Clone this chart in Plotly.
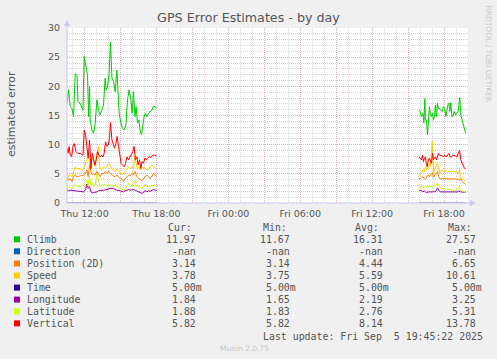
import plotly.graph_objects as go
from datetime import datetime, timedelta

# ---------------- data ----------------
# segment 1: minutes relative to Thu 2025-09-04 12:00
# segment 2: minutes relative to Fri 2025-09-05 18:00
seg1_base = datetime(2025, 9, 4, 12, 0)
seg2_base = datetime(2025, 9, 5, 18, 0)

climb_t1 = [-88,-80,-72,-63,-55,-47,-38,-33,-22,-8,-2,5,15,20,25,28,37,45,53,62,70,78,87,95,103,108,115,123,130,137,145,153,162,167,173,182,190,198,207,215,223,232,238,245,252,258,265,272,278,285,292,298,305,312,320,328,337,345,353,360]
climb_v1 = [17.1,19.4,16.5,16.2,14.8,22.2,21.9,17.4,17.1,15.9,25.1,23.9,21.9,14.8,19.9,14.2,12.5,11.9,13.7,17.7,15.9,15.1,15.9,16.8,21.4,19.4,19.9,22.2,27.57,21.4,20.8,19.1,22.8,17.9,15.4,13.7,12.8,12.5,13.4,17.7,19.4,17.7,15.4,19.1,14.8,16.5,13.7,14.2,12.5,11.67,13.7,14.8,15.4,14.8,15.4,15.7,15.9,16.6,16.5,16.4]
climb_t2 = [-126,-119,-113,-106,-101,-96,-93,-88,-83,-78,-73,-68,-63,-58,-53,-48,-43,-38,-33,-28,-23,-16,-9,-3,4,9,14,19,24,29,34,39,44,51,58,64,71,76,79,84,91,98,103,108]
climb_v2 = [15.9,15.7,14.8,15.4,13.7,17.9,14.2,14.2,11.7,14.2,16.5,15.1,14.8,15.4,14.2,14.8,16.8,14.8,17.1,16.2,16.2,15.9,15.7,16.5,16.2,14.8,15.9,16.8,17.1,15.7,17.2,14.8,14.8,15.7,15.1,15.4,15.7,17.4,18.1,15.1,14.2,13.1,12.2,11.97]

vert_t1 = [-88,-83,-77,-72,-65,-58,-52,-43,-35,-22,-8,-2,5,12,18,25,32,38,45,52,58,65,72,78,85,92,98,105,112,118,125,130,137,143,150,157,163,170,177,183,190,198,205,212,220,228,235,242,248,255,262,268,275,282,288,295,302,308,315,322,332,342,352,360]
vert_v1 = [9.4,8.5,9.7,8.2,7.9,9.7,10.2,8.8,8.5,8.5,8.2,12.5,11.7,9.9,7.7,10.8,5.9,8.5,7.7,6.5,7.4,8.8,8.2,7.9,8.2,7.9,8.5,10.5,9.7,9.9,11.1,13.78,10.8,10.2,9.4,10.2,11.4,9.7,7.9,6.8,6.5,6.2,6.8,7.9,7.4,7.9,8.5,8.8,9.7,7.4,7.9,6.5,7.4,5.9,7.1,6.8,7.7,7.4,7.7,7.9,7.8,8.2,8.2,8.1]
vert_t2 = [-126,-119,-113,-108,-103,-98,-93,-89,-84,-79,-73,-68,-63,-58,-53,-48,-43,-38,-33,-28,-23,-16,-9,-3,4,11,18,24,31,38,44,51,58,64,71,78,84,91,98,103,108]
vert_v2 = [7.9,7.7,7.4,8.2,7.1,7.7,7.9,6.8,6.2,7.4,7.7,7.1,6.8,8.5,7.4,7.7,7.9,7.4,8.2,8.5,8.2,8.2,8.1,7.9,8.2,7.9,8.2,8.5,7.9,7.9,8.2,8.2,8.1,7.9,8.5,9.0,7.4,6.8,6.2,5.9,5.82]

speed_t1 = [-88,-80,-72,-63,-55,-47,-38,-22,-8,-2,5,12,18,25,32,38,45,52,58,65,70,75,82,88,95,103,112,120,128,137,145,153,162,170,178,187,195,203,212,220,228,237,245,252,258,265,272,278,287,295,303,312,320,328,337,345,353,360]
speed_v1 = [5.1,4.5,4.8,4.5,5.4,6.2,5.9,5.9,5.7,6.2,6.5,7.4,8.5,6.8,6.2,7.9,7.1,6.2,7.4,9.1,9.7,6.2,5.7,5.9,6.2,5.9,6.2,6.8,6.5,5.9,5.7,5.4,5.9,5.4,5.1,5.1,4.8,5.4,5.9,6.2,5.9,6.2,5.9,8.2,6.8,5.7,6.2,5.7,5.9,6.2,5.9,5.7,5.9,6.2,6.5,6.2,5.9,5.8]
speed_t2 = [-126,-119,-113,-106,-99,-93,-86,-79,-73,-68,-63,-59,-56,-51,-46,-41,-36,-31,-26,-21,-16,-9,-3,4,11,19,28,36,44,53,61,69,74,78,81,88,94,101,108]
speed_v2 = [4.8,4.8,5.1,5.7,5.4,6.2,5.7,5.9,6.8,6.2,8.5,10.61,7.4,5.1,5.9,6.2,6.8,6.5,5.9,5.1,5.4,5.7,5.4,5.5,5.5,5.4,5.4,5.4,5.4,5.4,5.4,5.2,5.1,5.9,4.5,4.2,4.1,3.9,3.78]

pos_t1 = [-88,-80,-72,-63,-55,-47,-38,-22,-5,5,12,18,25,32,38,45,53,62,70,78,87,95,103,112,120,128,137,145,153,162,170,178,187,195,203,212,220,228,237,245,253,262,270,278,287,295,303,312,320,328,337,345,353,360]
pos_v1 = [4.5,3.9,4.2,3.7,4.5,4.8,4.5,4.6,4.8,5.1,5.7,4.5,6.6,5.4,4.8,5.1,4.8,5.4,4.8,4.5,5.1,5.0,5.4,5.1,5.4,5.1,4.8,4.6,4.5,4.8,4.5,4.2,4.1,3.7,4.1,4.5,4.8,4.6,5.0,4.8,5.4,4.5,4.2,4.1,3.8,4.2,4.5,4.8,4.5,4.2,4.5,5.1,4.8,4.6]
pos_t2 = [-126,-119,-113,-106,-99,-93,-86,-79,-73,-66,-59,-53,-46,-39,-33,-26,-19,-13,-6,1,8,14,21,28,36,44,53,61,69,78,84,91,98,103,108]
pos_v2 = [4.2,4.2,4.4,4.5,4.2,4.1,4.5,4.8,4.5,5.0,5.2,4.4,4.8,5.1,5.4,4.5,4.1,4.2,4.2,4.2,4.2,4.2,4.2,4.2,4.2,4.1,4.2,4.1,4.1,3.9,4.2,3.7,3.5,3.4,3.14]

lat_t1 = [-88,-80,-72,-63,-55,-47,-38,-22,-5,5,12,18,25,32,38,45,53,62,70,78,87,95,103,112,120,128,137,145,153,162,170,178,187,195,203,212,220,228,237,245,252,258,265,272,278,287,295,303,312,320,328,337,345,353,360]
lat_v1 = [2.5,2.8,2.7,2.5,2.8,3.1,2.9,2.8,3.1,3.4,3.9,2.8,4.6,3.1,3.4,2.8,3.1,5.31,3.7,2.8,3.1,3.0,3.2,3.1,2.9,3.1,2.9,2.8,3.1,2.8,2.7,2.5,2.3,2.2,2.5,2.8,3.4,2.8,2.9,3.4,3.9,2.8,3.1,2.8,2.7,2.5,2.8,3.1,2.9,2.8,2.7,2.9,3.1,3.0,2.9]
lat_t2 = [-126,-119,-113,-106,-99,-93,-86,-79,-73,-66,-59,-53,-46,-39,-33,-26,-19,-13,-6,3,11,19,28,36,44,53,61,69,74,78,84,91,98,108]
lat_v2 = [2.5,2.8,2.9,2.5,2.8,2.6,2.9,2.8,2.7,2.9,2.8,2.9,3.1,3.0,3.4,3.1,2.6,2.5,2.5,2.5,2.5,2.4,2.3,2.3,2.2,2.1,2.3,2.5,2.8,2.5,2.2,2.1,1.9,1.88]

lon_t1 = [-88,-80,-72,-55,-38,-22,-5,5,12,18,25,32,38,45,53,62,70,78,95,112,128,145,153,162,178,195,203,212,220,228,245,253,262,270,278,287,295,303,312,320,328,337,345,353,360]
lon_v1 = [2.2,2.1,2.2,2.1,2.1,2.0,1.9,2.3,3.25,2.5,2.8,1.9,1.7,1.8,1.8,1.9,2.1,2.1,2.2,2.3,2.5,2.5,2.3,2.2,2.1,1.9,2.1,2.2,2.3,2.2,2.3,2.2,2.1,1.9,1.8,1.65,1.9,2.1,1.9,2.1,2.0,2.2,2.3,2.2,2.2]
lon_t2 = [-126,-119,-113,-106,-99,-93,-86,-79,-73,-66,-59,-53,-46,-39,-33,-26,-19,-13,-6,3,11,19,28,36,44,53,61,69,74,81,88,94,101,108]
lon_v2 = [2.2,2.2,2.1,1.9,2.1,1.9,1.8,1.9,1.9,1.8,1.9,2.0,1.9,2.1,2.6,2.2,1.9,1.9,1.9,1.9,1.8,1.9,1.8,1.9,1.9,1.8,1.9,1.9,2.1,1.9,1.9,1.8,1.8,1.84]

time_t1 = [-88, 360]
time_v1 = [0.005, 0.005]
time_t2 = [-126, 108]
time_v2 = [0.005, 0.005]

# legend table
legend_names = ["Climb", "Direction", "Position (2D)", "Speed", "Time", "Longitude", "Latitude", "Vertical"]
legend_colors = ["#00CC00", "#0066B3", "#FF8000", "#FFCC00", "#330099", "#990099", "#CCFF00", "#FF0000"]
legend_cur = ["11.97 ", "-nan ", "3.14 ", "3.78 ", "5.00m", "1.84 ", "1.88 ", "5.82 "]
legend_min = ["11.67 ", "-nan ", "3.14 ", "3.75 ", "5.00m", "1.65 ", "1.83 ", "5.82 "]
legend_avg = ["16.31 ", "-nan ", "4.44 ", "5.59 ", "5.00m", "2.19 ", "2.76 ", "8.14 "]
legend_max = ["27.57 ", "-nan ", "6.65 ", "10.61 ", "5.00m", "3.25 ", "5.31 ", "13.78 "]

x_tick_times = ["2025-09-04 12:00", "2025-09-04 15:00", "2025-09-04 18:00", "2025-09-04 21:00",
                "2025-09-05 00:00", "2025-09-05 03:00", "2025-09-05 06:00", "2025-09-05 09:00",
                "2025-09-05 12:00", "2025-09-05 15:00", "2025-09-05 18:00"]
x_tick_labels = ["Thu 12:00", "", "Thu 18:00", "", "Fri 00:00", "", "Fri 06:00", "", "Fri 12:00", "", "Fri 18:00"]
y_tick_vals = [0, 5, 10, 15, 20, 25, 30]
x_range = ["2025-09-04 10:32", "2025-09-05 20:00"]

title_text = "GPS Error Estimates - by day"
y_title = "estimated error"
last_update = "Last update: Fri Sep  5 19:45:22 2025"

# ---------------- figure ----------------
def join(t1, v1, t2, v2):
    xs = [seg1_base + timedelta(minutes=m) for m in t1] + [None] + [seg2_base + timedelta(minutes=m) for m in t2]
    ys = list(v1) + [None] + list(v2)
    return xs, ys

fig = go.Figure()
series = [
    (time_t1, time_v1, time_t2, time_v2, "rgba(80,60,200,0.55)"),
    (lon_t1, lon_v1, lon_t2, lon_v2, "#990099"),
    (lat_t1, lat_v1, lat_t2, lat_v2, "#CCFF00"),
    (pos_t1, pos_v1, pos_t2, pos_v2, "#FF8000"),
    (speed_t1, speed_v1, speed_t2, speed_v2, "#FFCC00"),
    (vert_t1, vert_v1, vert_t2, vert_v2, "#FF0000"),
    (climb_t1, climb_v1, climb_t2, climb_v2, "#00CC00"),
]
for t1, v1, t2, v2, col in series:
    xs, ys = join(t1, v1, t2, v2)
    fig.add_trace(go.Scatter(x=xs, y=ys, mode="lines", line=dict(color=col, width=1),
                             connectgaps=False, showlegend=False, hoverinfo="skip"))

PL, PR, PT, PB = 67, 468, 28, 203
W, H = 497, 359

def px(x):
    return (x - PL) / (PR - PL)

def py(y):
    return (PB - y) / (PB - PT)

major_grid = "rgba(235,130,130,0.45)"
minor_grid = "#d6d6d6"
txt = "#555555"
dash = "1px,1px"

fig.update_layout(
    width=W, height=H,
    margin=dict(l=PL, r=W - PR, t=PT, b=H - PB, pad=0, autoexpand=False),
    paper_bgcolor="#F0F0F0", plot_bgcolor="#FFFFFF",
    font=dict(family="DejaVu Sans", color=txt, size=10),
    title=dict(text=title_text, x=0.5, xref="container", xanchor="center",
               y=1 - 18 / H, yanchor="middle", yref="container",
               font=dict(size=12.7, color=txt, family="DejaVu Sans")),
)

fig.update_xaxes(
    type="date", range=x_range, tickmode="array", tickvals=x_tick_times, ticktext=x_tick_labels,
    showgrid=True, gridcolor=major_grid, griddash=dash, gridwidth=1,
    minor=dict(dtick=3600000, tick0="2025-09-04 00:00", showgrid=True, gridcolor=minor_grid,
               griddash=dash, gridwidth=1),
    ticks="outside", ticklen=2, tickcolor="rgba(0,0,0,0)", showline=False, zeroline=False, automargin=False,
    tickfont=dict(size=9.5, color=txt, family="DejaVu Sans"),
)
fig.update_yaxes(
    range=[0, 30], tickmode="array", tickvals=y_tick_vals,
    showgrid=True, gridcolor=major_grid, griddash=dash, gridwidth=1,
    minor=dict(dtick=1, showgrid=True, gridcolor=minor_grid, griddash=dash, gridwidth=1),
    ticks="outside", ticklen=4, tickcolor="rgba(0,0,0,0)", showline=False, zeroline=False, automargin=False,
    tickfont=dict(size=9.5, color=txt, family="DejaVu Sans"),
)

shapes = []
axis_col = "#c8c8f0"
# y axis line + arrow
shapes.append(dict(type="line", xref="paper", yref="paper", x0=px(67), x1=px(67), y0=py(203), y1=py(24),
                   line=dict(color=axis_col, width=1)))
shapes.append(dict(type="path", xref="paper", yref="paper",
                   path=f"M {px(64)} {py(26)} L {px(70)} {py(26)} L {px(67)} {py(20)} Z",
                   fillcolor=axis_col, line=dict(width=0)))
# x axis line + arrow
shapes.append(dict(type="line", xref="paper", yref="paper", x0=px(67), x1=px(472), y0=py(203), y1=py(203),
                   line=dict(color=axis_col, width=1), layer="below"))
shapes.append(dict(type="path", xref="paper", yref="paper",
                   path=f"M {px(470)} {py(200)} L {px(470)} {py(206)} L {px(476)} {py(203)} Z",
                   fillcolor=axis_col, line=dict(width=0)))

annotations = []
mono = "DejaVu Sans Mono"
fs = 9.9
row_y = [239.3, 251.3, 263.5, 275.5, 287.6, 299.6, 311.4, 323.4]

def nb(s):
    return s.replace(" ", "\u00a0")

annotations.append(dict(text=y_title, x=px(11), y=py(114), xref="paper", yref="paper",
                        xanchor="center", yanchor="middle", showarrow=False, textangle=-90, borderpad=0,
                        font=dict(family="DejaVu Sans", size=11, color=txt)))

# headers
for label, xl in [("Cur:", 167.3), ("Min:", 261.7), ("Avg:", 354.0), ("Max:", 446.7)]:
    annotations.append(dict(text=label, x=px(xl), y=py(227.7), xref="paper", yref="paper",
                            xanchor="left", yanchor="middle", showarrow=False, borderpad=0,
                            font=dict(family=mono, size=fs, color=txt)))

cols = [(legend_cur, 203.0), (legend_min, 296.5), (legend_avg, 390.0), (legend_max, 483.0)]
for i, name in enumerate(legend_names):
    yy = row_y[i]
    shapes.append(dict(type="rect", xref="paper", yref="paper",
                       x0=px(14), x1=px(20), y0=py(yy - 3), y1=py(yy + 3),
                       fillcolor=legend_colors[i], line=dict(width=0)))
    annotations.append(dict(text=nb(name), x=px(26.3), y=py(yy), xref="paper", yref="paper",
                            xanchor="left", yanchor="middle", showarrow=False, borderpad=0,
                            font=dict(family=mono, size=fs, color=txt)))
    for vals, xr in cols:
        annotations.append(dict(text=nb(vals[i]), x=px(xr), y=py(yy), xref="paper", yref="paper",
                                xanchor="right", yanchor="middle", showarrow=False, borderpad=0,
                                font=dict(family=mono, size=fs, color=txt)))

annotations.append(dict(text=nb(last_update), x=px(261.7), y=py(336.3), xref="paper", yref="paper",
                        xanchor="left", yanchor="middle", showarrow=False, borderpad=0,
                        font=dict(family=mono, size=fs, color=txt)))
annotations.append(dict(text="Munin 2.0.75", x=px(244), y=py(348), xref="paper", yref="paper",
                        xanchor="center", yanchor="middle", showarrow=False, borderpad=0,
                        font=dict(family="DejaVu Sans", size=7.5, color="#c8c8c8")))
annotations.append(dict(text="RRDTOOL / TOBI OETIKER", x=px(488.5), y=py(54), xref="paper", yref="paper",
                        xanchor="center", yanchor="middle", showarrow=False, textangle=90, borderpad=0,
                        font=dict(family="DejaVu Sans", size=7.5, color="#c8c8c8")))

fig.update_layout(shapes=shapes, annotations=annotations)
fig.write_html("out.html", config={"displayModeBar": False},
               post_script="document.body.style.margin='0';document.body.style.background='#F0F0F0';")
